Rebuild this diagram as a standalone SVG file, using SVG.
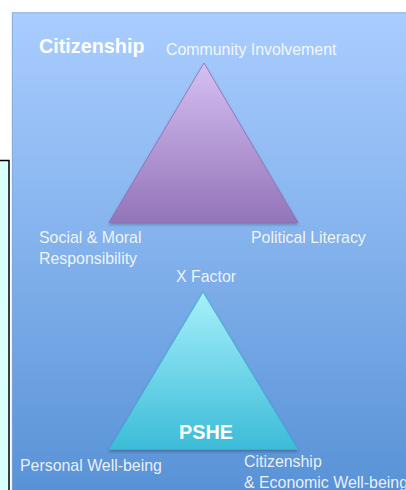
<svg xmlns="http://www.w3.org/2000/svg" width="406" height="490" viewBox="0 0 406 490">
  <defs>
    <linearGradient id="panelFill" x1="0" y1="0" x2="0" y2="1">
      <stop offset="0" stop-color="#aacdff"/>
      <stop offset="0.5" stop-color="#82b1ec"/>
      <stop offset="1" stop-color="#5892d6"/>
    </linearGradient>
    <linearGradient id="purpleFill" x1="0" y1="0" x2="0" y2="1">
      <stop offset="0" stop-color="#d6c0f2"/>
      <stop offset="1" stop-color="#9374b9"/>
    </linearGradient>
    <linearGradient id="cyanFill" x1="0" y1="0" x2="0" y2="1">
      <stop offset="0" stop-color="#a6f0fb"/>
      <stop offset="1" stop-color="#3cbcd8"/>
    </linearGradient>
    <filter id="soft" x="-10%" y="-10%" width="120%" height="125%">
      <feGaussianBlur in="SourceAlpha" stdDeviation="1.5"/>
      <feOffset dy="1.5"/>
      <feComponentTransfer><feFuncA type="linear" slope="0.25"/></feComponentTransfer>
      <feMerge><feMergeNode/><feMergeNode in="SourceGraphic"/></feMerge>
    </filter>
  </defs>
  <style>
    text { font-family: "Liberation Sans", Arial, sans-serif; }
    .label { fill: #ffffff; fill-opacity: 0.88; font-size: 15.9px; }
    .title { fill: #ffffff; font-weight: bold; font-size: 19.8px; }
  </style>

  <rect x="0" y="0" width="406" height="490" fill="#ffffff"/>

  <!-- side panel peeking in on the left -->
  <g id="side-panel">
    <rect x="-3" y="160.5" width="12" height="335" fill="#d9ffff" stroke="#000000" stroke-width="1.5"/>
  </g>

  <!-- main blue slide -->
  <g id="slide">
    <rect x="12" y="12.5" width="400" height="480" fill="url(#panelFill)"/>
    <line x1="12" y1="12.8" x2="406" y2="12.8" stroke="#8fb2dd" stroke-width="1"/>
    <line x1="12.3" y1="12.5" x2="12.3" y2="490" stroke="#7fa6d8" stroke-width="0.8"/>
  </g>

  <!-- Citizenship triangle -->
  <g id="citizenship">
    <polygon points="204,63 109,222.5 298,222.5" fill="url(#purpleFill)" stroke="#8a6cb2" stroke-width="0.8" filter="url(#soft)"/>
    <text class="title" x="39" y="52.5">Citizenship</text>
    <text class="label" x="166" y="55" font-size="16.8px">Community Involvement</text>
    <text class="label" x="39" y="243.3">Social &amp; Moral</text>
    <text class="label" x="39" y="264">Responsibility</text>
    <text class="label" x="251" y="242.5">Political Literacy</text>
  </g>

  <!-- PSHE triangle -->
  <g id="pshe">
    <polygon points="203,292 109,449.5 298,449.5" fill="url(#cyanFill)" stroke="#3aaccf" stroke-width="0.8" filter="url(#soft)"/>
    <text class="label" x="176" y="282">X Factor</text>
    <text class="title" x="179" y="438.5">PSHE</text>
    <text class="label" x="20" y="471">Personal Well-being</text>
    <text class="label" x="244" y="467">Citizenship</text>
    <text class="label" x="244" y="488">&amp; Economic Well-being</text>
  </g>
</svg>
